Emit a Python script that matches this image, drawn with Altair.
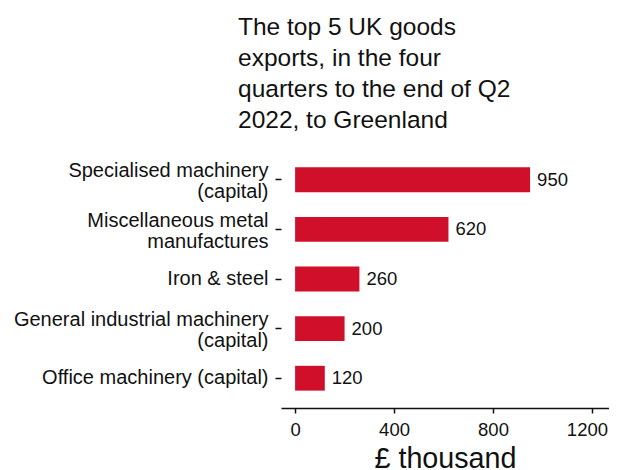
import altair as alt
import pandas as pd

categories = [
    "Specialised machinery\n(capital)",
    "Miscellaneous metal\nmanufactures",
    "Iron & steel",
    "General industrial machinery\n(capital)",
    "Office machinery (capital)",
]
values = [950, 620, 260, 200, 120]
x_ticks = [0, 400, 800, 1200]
title_lines = [
    "The top 5 UK goods",
    "exports, in the four",
    "quarters to the end of Q2",
    "2022, to Greenland",
]

df = pd.DataFrame({"category": categories, "value": values})

FONT = "Liberation Sans, Arial, Helvetica, sans-serif"
BAR = "#D0102B"

y_enc = alt.Y(
    "category:N",
    sort=categories,
    scale=alt.Scale(paddingInner=0.5, paddingOuter=0.35),
    axis=alt.Axis(
        title=None,
        domain=False,
        ticks=True,
        tickSize=6,
        tickWidth=1.5,
        tickColor="#111111",
        labelFontSize=20,
        labelPadding=7,
        labelLineHeight=21,
        labelLimit=400,
        labelOffset={"condition": {"test": "indexof(datum.value, '\\n') >= 0", "value": -8.5}, "value": 0},
        labelColor="#111111",
        labelFont=FONT,
        labelExpr="split(datum.label, '\\n')",
    ),
)

x_enc = alt.X(
    "value:Q",
    scale=alt.Scale(domain=[-57, 1269], nice=False, zero=False),
    axis=alt.Axis(
        values=x_ticks,
        format="d",
        title="£ thousand",
        grid=False,
        domain=True,
        domainColor="#111111",
        domainWidth=1.5,
        tickColor="#111111",
        tickSize=5,
        tickWidth=1.5,
        labelFontSize=18.5,
        labelPadding=7,
        labelOffset={"condition": {"test": "datum.value == 1200", "value": -5}, "value": 0},
        labelColor="#111111",
        labelFont=FONT,
        labelOverlap=False,
        labelBound=False,
        titleFont=FONT,
        titleFontSize=28.7,
        titleFontWeight="normal",
        titleColor="#111111",
        titlePadding=6,
    ),
)

bars = alt.Chart(df).mark_bar(color=BAR).encode(x=x_enc, y=y_enc)

labels = alt.Chart(df).mark_text(
    align="left", baseline="middle", dx=7, fontSize=18.5, font=FONT, color="#111111"
).encode(x="value:Q", y=alt.Y("category:N", sort=categories), text="value:Q")

chart = (
    alt.layer(bars, labels)
    .properties(
        width=328,
        height=258,
        autosize=alt.AutoSizeParams(type="none"),
        padding={"left": 273, "top": 142, "right": 0, "bottom": 62},
        title=alt.TitleParams(
            text=title_lines,
            anchor="start",
            frame="group",
            dx=-43,
            offset=16,
            fontSize=24.5,
            lineHeight=31.3,
            font=FONT,
            fontWeight="normal",
            color="#111111",
        ),
    )
    .configure_view(stroke=None)
    .configure_axis(grid=False)
)

chart.save("out.html", embed_options={"renderer": "svg", "actions": False})
